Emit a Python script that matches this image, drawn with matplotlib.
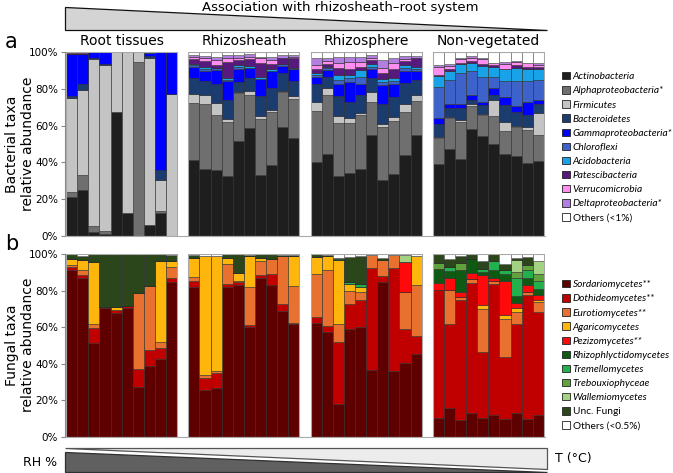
import numpy as np
import matplotlib.pyplot as plt
from matplotlib.patches import Patch, Polygon, Rectangle
from matplotlib import font_manager

groups = ["Root tissues", "Rhizosheath", "Rhizosphere", "Non-vegetated"]

# bacteria (% per sample, 10 samples per group, groups in order above)
actino = [21, 25, 2, 1, 67.5, 12.5, 0, 6, 12.5, 0,
          41.5, 36.5, 36, 32.5, 51.5, 58.5, 33, 38.5, 59.5, 53.5,
          40, 44.5, 32.5, 34.5, 36.5, 55, 30.5, 33.5, 44, 55,
          39, 47.5, 42, 58, 54.5, 50, 44.5, 43.5, 39.5, 41]
alpha = [3, 8, 3.5, 1.5, 0, 0, 94.5, 0, 1, 0,
         31, 35.5, 29.5, 29.5, 26, 18, 30.5, 29, 19, 21,
         28, 32, 29, 27, 29, 18, 29, 29, 23.5, 18.5,
         14.5, 16.5, 20, 12.5, 11, 15, 12.5, 15.5, 18, 14]
firmi = [51, 46.5, 90.5, 90.5, 32.5, 87.5, 5.5, 91, 17, 77,
         4.5, 4.5, 7, 1.5, 0.5, 2.5, 1.5, 1, 0.5, 1.5,
         5, 4, 3.5, 2.5, 1.5, 5.5, 1.5, 2, 4, 3,
         0.5, 0.5, 1, 1, 1, 9, 5, 1, 1.5, 12]
bactero = [1, 3, 0.5, 0.5, 0, 0, 0, 1, 5.5, 0,
           9, 7.5, 10, 10.5, 5.5, 7, 11, 12, 9.5, 8.5,
           9.5, 6, 11, 9, 9.5, 7.5, 11, 11, 11.5, 8.5,
           7, 5, 6.5, 2.5, 4.5, 2.5, 9, 7.5, 7, 5]
gamma = [23, 16.5, 3.5, 6.5, 0, 0, 0, 1.3, 64, 23,
         6, 5.5, 7.5, 10, 7, 5.5, 9.5, 9, 4, 6,
         4, 3.5, 6.5, 10.5, 6, 4.5, 10, 7, 6.5, 4.5,
         3, 2, 2, 2.5, 2, 4, 4.5, 3, 7, 2]
chloro = [0, 0, 0, 0, 0, 0, 0, 0, 0, 0,
          1, 1, 1.5, 1, 1.5, 0, 0, 0, 1, 0,
          1, 1.5, 2.5, 2.5, 4, 1.5, 1.5, 2, 2, 1.5,
          17, 13.5, 17, 13, 13.5, 6, 9, 13.5, 11, 11]
acido = [0, 0, 0, 0, 0, 0, 0, 0.7, 0, 0,
         0.5, 1.5, 0, 1, 1, 1, 1, 1, 0, 1,
         1, 0.5, 2.5, 1.5, 3.5, 1.5, 2, 1.5, 1.5, 1,
         6, 4.5, 5, 4.5, 6, 5.5, 6, 7.5, 7, 6]
patesci = [0.5, 0.5, 0, 0, 0, 0, 0, 0, 0, 0,
           2.5, 3, 1.5, 8.5, 2.5, 3.5, 7.5, 3, 3.5, 5,
           2.5, 1.5, 4, 3, 2, 2, 3, 4.5, 2, 4.5,
           0.5, 1, 0.5, 1, 1, 1, 0.5, 1.5, 1, 1]
verruco = [0.5, 0.5, 0, 0, 0, 0, 0, 0, 0, 0,
           1.5, 2, 2.5, 2.5, 1, 1.5, 2.5, 2, 0, 1,
           2, 1.5, 2.5, 4, 2.5, 1, 3, 3.5, 1, 0,
           4.5, 2, 2, 2, 2.5, 1, 2.5, 1.5, 2, 1]
delta = [0, 0, 0, 0, 0, 0, 0, 0, 0, 0,
         1, 1, 2, 1.5, 2, 1.5, 1, 2, 1.5, 1,
         3.5, 2, 3.5, 3, 3, 2, 4, 2.5, 2, 1.5,
         1, 1, 1, 1, 1, 0, 1, 0.5, 0, 1]

bac_names = ["Actinobacteria", "Alphaproteobacteria*", "Firmicutes", "Bacteroidetes",
             "Gammaproteobacteria*", "Chloroflexi", "Acidobacteria", "Patescibacteria",
             "Verrucomicrobia", "Deltaproteobacteria*", "Others (<1%)"]
bac_colors = ["#1e1e1e", "#6f6f6f", "#c4c4c4", "#1b3c6e", "#0000ff", "#3d62c9",
              "#18a2e8", "#58197f", "#ff8ef0", "#b27ee2", "#ffffff"]

# fungi
sordario = [91, 87, 51.5, 70.5, 68, 70.5, 27.5, 39, 42.5, 84.5,
            82, 25.5, 27, 82, 83.2, 60, 87, 83, 69, 61.5,
            62.5, 57.5, 18, 59, 60, 36.8, 84.5, 36, 40.5, 45.5,
            10.5, 16, 9.5, 13, 10.5, 12, 10, 13, 10, 12]
dothideo = [2, 1.5, 8, 0.5, 1.5, 1, 9.5, 8.5, 6, 2.5,
            3, 7, 8, 1.5, 1.3, 1, 1.7, 6, 3.5, 1,
            3, 3, 34, 13.5, 15, 55.5, 3.5, 56.5, 18.5, 9.5,
            70, 45.5, 65.5, 71, 36, 71.5, 33.5, 48.5, 67.5, 56.5]
eurotio = [1, 3, 2.5, 0, 0, 0, 41.5, 35, 3.5, 6,
           2.5, 1.5, 1.2, 11, 1, 21, 7.7, 8.5, 26.5, 20,
           23.5, 31, 10, 7.5, 4.5, 7.2, 8.5, 7, 20, 28,
           0, 19, 1.5, 2.5, 23.5, 2, 21, 7, 1.5, 5.5]
agarico = [3.5, 5, 33.5, 0, 1.5, 0, 0, 0, 44, 3,
           10.5, 65, 62.8, 3.5, 4, 17, 1.6, 0, 0, 16.5,
           9.5, 7.5, 34.5, 3.5, 2.5, 0, 0, 0, 0, 16,
           0, 0, 0, 0, 2, 0, 2, 2, 0, 1]
pezizo = [0, 0, 0, 0, 0, 0, 0, 0, 0, 0,
          0, 0, 0, 0, 0, 0, 0, 0, 0, 0,
          0, 0, 0, 0, 0, 0, 0, 0, 16.5, 0,
          3.5, 6.5, 3, 3, 16.5, 1.5, 19, 2.5, 4, 2.5]
rhizophly = [0, 0, 0, 0, 0, 0, 0, 0, 0, 0,
             0, 0, 0, 0, 0, 0, 0, 0, 0, 0,
             0, 0, 1, 0, 0, 0, 0, 0, 0, 0,
             8, 3.5, 12, 8, 1.5, 4.5, 3.5, 4, 4, 3.5]
tremello = [0, 0, 0, 0, 0, 0, 0, 0, 0, 0,
            0, 0, 0, 0, 0, 0, 0, 0, 0, 0,
            0, 0, 0.5, 1, 1.5, 0, 0, 0, 0, 0,
            0, 2.5, 0, 0, 2, 4.5, 2, 10, 4, 4]
trebouxio = [0, 0, 0, 0, 0, 0, 0, 0, 0, 0,
             0, 0, 0, 0, 0, 0, 0, 0, 0, 0,
             0, 0, 0, 0, 0, 0, 0, 0, 0, 0,
             3, 0, 3.5, 0, 0, 0, 0, 3, 3, 4]
wallemio = [0, 0, 0, 0, 0, 0, 0, 0, 0, 0,
            0, 0, 0, 0, 0, 0, 0, 0, 0, 0,
            0, 0, 0, 0, 0, 0, 0, 0, 4, 0,
            0, 0, 0, 0, 0, 0, 0, 6.5, 0, 7]
unc_fungi = [2.5, 2.5, 4.5, 29, 29, 28.5, 21.5, 17.5, 4, 3.5,
             1.5, 0, 0, 1.8, 10.5, 0.5, 2, 2.5, 0.5, 0.5,
             1.5, 0.5, 0, 14, 15.5, 0, 1.5, 0, 0, 0,
             5, 4.5, 4, 2.5, 4, 4, 3.5, 1.5, 4.5, 0]

fun_names = ["Sordariomycetes**", "Dothideomycetes**", "Eurotiomycetes**", "Agaricomycetes",
             "Pezizomycetes**", "Rhizophlyctidomycetes", "Tremellomycetes", "Trebouxiophyceae",
             "Wallemiomycetes", "Unc. Fungi", "Others (<0.5%)"]
fun_colors = ["#5e0000", "#c00000", "#e8712f", "#ffb60c", "#ff0a0a", "#0e5a12",
              "#22b14c", "#5fa33a", "#a3d382", "#2c461c", "#ffffff"]

bac = [actino, alpha, firmi, bactero, gamma, chloro, acido, patesci, verruco, delta]
fun = [sordario, dothideo, eurotio, agarico, pezizo, rhizophly, tremello, trebouxio,
       wallemio, unc_fungi]

# narrow font for the legends if it is there
installed = {f.name for f in font_manager.fontManager.ttflist}
leg_family = "Liberation Sans Narrow" if "Liberation Sans Narrow" in installed else "Lato"
leg_size = 8.3 if leg_family == "Liberation Sans Narrow" else 7.3

x = np.array([g * 11 + i for g in range(4) for i in range(10)])

fig = plt.figure(figsize=(6.73, 4.73), dpi=100)
ax_a = fig.add_axes([65 / 673, 1 - 236 / 473, 480 / 673, 184 / 473])
ax_b = fig.add_axes([65 / 673, 1 - 437 / 473, 480 / 673, 183 / 473])


def stacked(ax, series, colors):
    bottom = np.zeros(len(x))
    for vals, c in zip(series, colors):
        v = np.array(vals, dtype=float)
        ax.bar(x, v, bottom=bottom, width=1.0, color=c, edgecolor="#2a2a2a", linewidth=0.4)
        bottom += v
    rest = np.clip(100 - bottom, 0, None)
    ax.bar(x, rest, bottom=bottom, width=1.0, color=colors[-1], edgecolor="#555555", linewidth=0.4)
    for g in range(4):
        ax.add_patch(Rectangle((g * 11 - 0.5, 0), 10, 100, fill=False,
                               edgecolor="#a8a8a8", linewidth=0.8, zorder=5))
    ax.set_xlim(-0.6, 42.6)
    ax.set_ylim(0, 100)
    ax.set_yticks([0, 20, 40, 60, 80, 100])
    ax.set_yticklabels([f"{t}%" for t in range(0, 101, 20)], fontsize=7.5)
    ax.set_xticks([])
    for s in ["top", "right"]:
        ax.spines[s].set_visible(False)
    ax.spines["left"].set_color("#888888")
    ax.spines["bottom"].set_color("#aaaaaa")
    ax.tick_params(axis="y", length=3, color="#888888", pad=2)


stacked(ax_a, bac, bac_colors)
stacked(ax_b, fun, fun_colors)

for g, name in enumerate(groups):
    ax_a.text(g * 11 + 4.5, 1.06, name, transform=ax_a.get_xaxis_transform(),
              ha="center", va="center", fontsize=10)

fig.text(5 / 673, 1 - 42 / 473, "a", fontsize=15, va="center")
fig.text(5 / 673, 1 - 244 / 473, "b", fontsize=15, va="center")
fig.text(20 / 673, 1 - 144 / 473, "Bacterial taxa\nrelative abundance", rotation=90,
         ha="center", va="center", fontsize=10, linespacing=1.1)
fig.text(20 / 673, 1 - 345 / 473, "Fungal taxa\nrelative abundance", rotation=90,
         ha="center", va="center", fontsize=10, linespacing=1.1)

# header / footer wedges in pixel space
over = fig.add_axes([0, 0, 1, 1], zorder=-1)
over.set_xlim(0, 673)
over.set_ylim(473, 0)
over.axis("off")
over.add_patch(Polygon([(65, 7), (65, 30), (547, 30)], closed=True,
                       facecolor="#d4d4d4", edgecolor="#111111", linewidth=0.9))
over.text(340, 7, "Association with rhizosheath\u2013root system", ha="center",
          va="center", fontsize=9.5)
over.add_patch(Polygon([(65, 448), (547, 448), (547, 469)], closed=True,
                       facecolor="#ececec", edgecolor="#555555", linewidth=0.9))
over.add_patch(Polygon([(65, 452), (65, 472), (547, 472)], closed=True,
                       facecolor="#606060", edgecolor="#303030", linewidth=0.9))
over.text(40, 462, "RH %", ha="center", va="center", fontsize=9)
over.text(555, 458, "T (\u00b0C)", ha="left", va="center", fontsize=9)


def add_legend(names, colors, top_px):
    handles = [Patch(facecolor=c, edgecolor="#222222", linewidth=0.6) for c in colors]
    leg = fig.legend(handles, names, loc="upper left",
                     bbox_to_anchor=(557 / 673, 1 - top_px / 473), frameon=False,
                     prop={"family": leg_family, "size": leg_size},
                     handlelength=0.75, handleheight=0.75,
                     handletextpad=0.3, labelspacing=0.48, borderpad=0)
    for t in leg.get_texts():
        if not t.get_text().startswith(("Others", "Unc.")):
            t.set_fontstyle("italic")


add_legend(bac_names, bac_colors, 67)
add_legend(fun_names, fun_colors, 275)

fig.savefig("out.png", dpi=100)
